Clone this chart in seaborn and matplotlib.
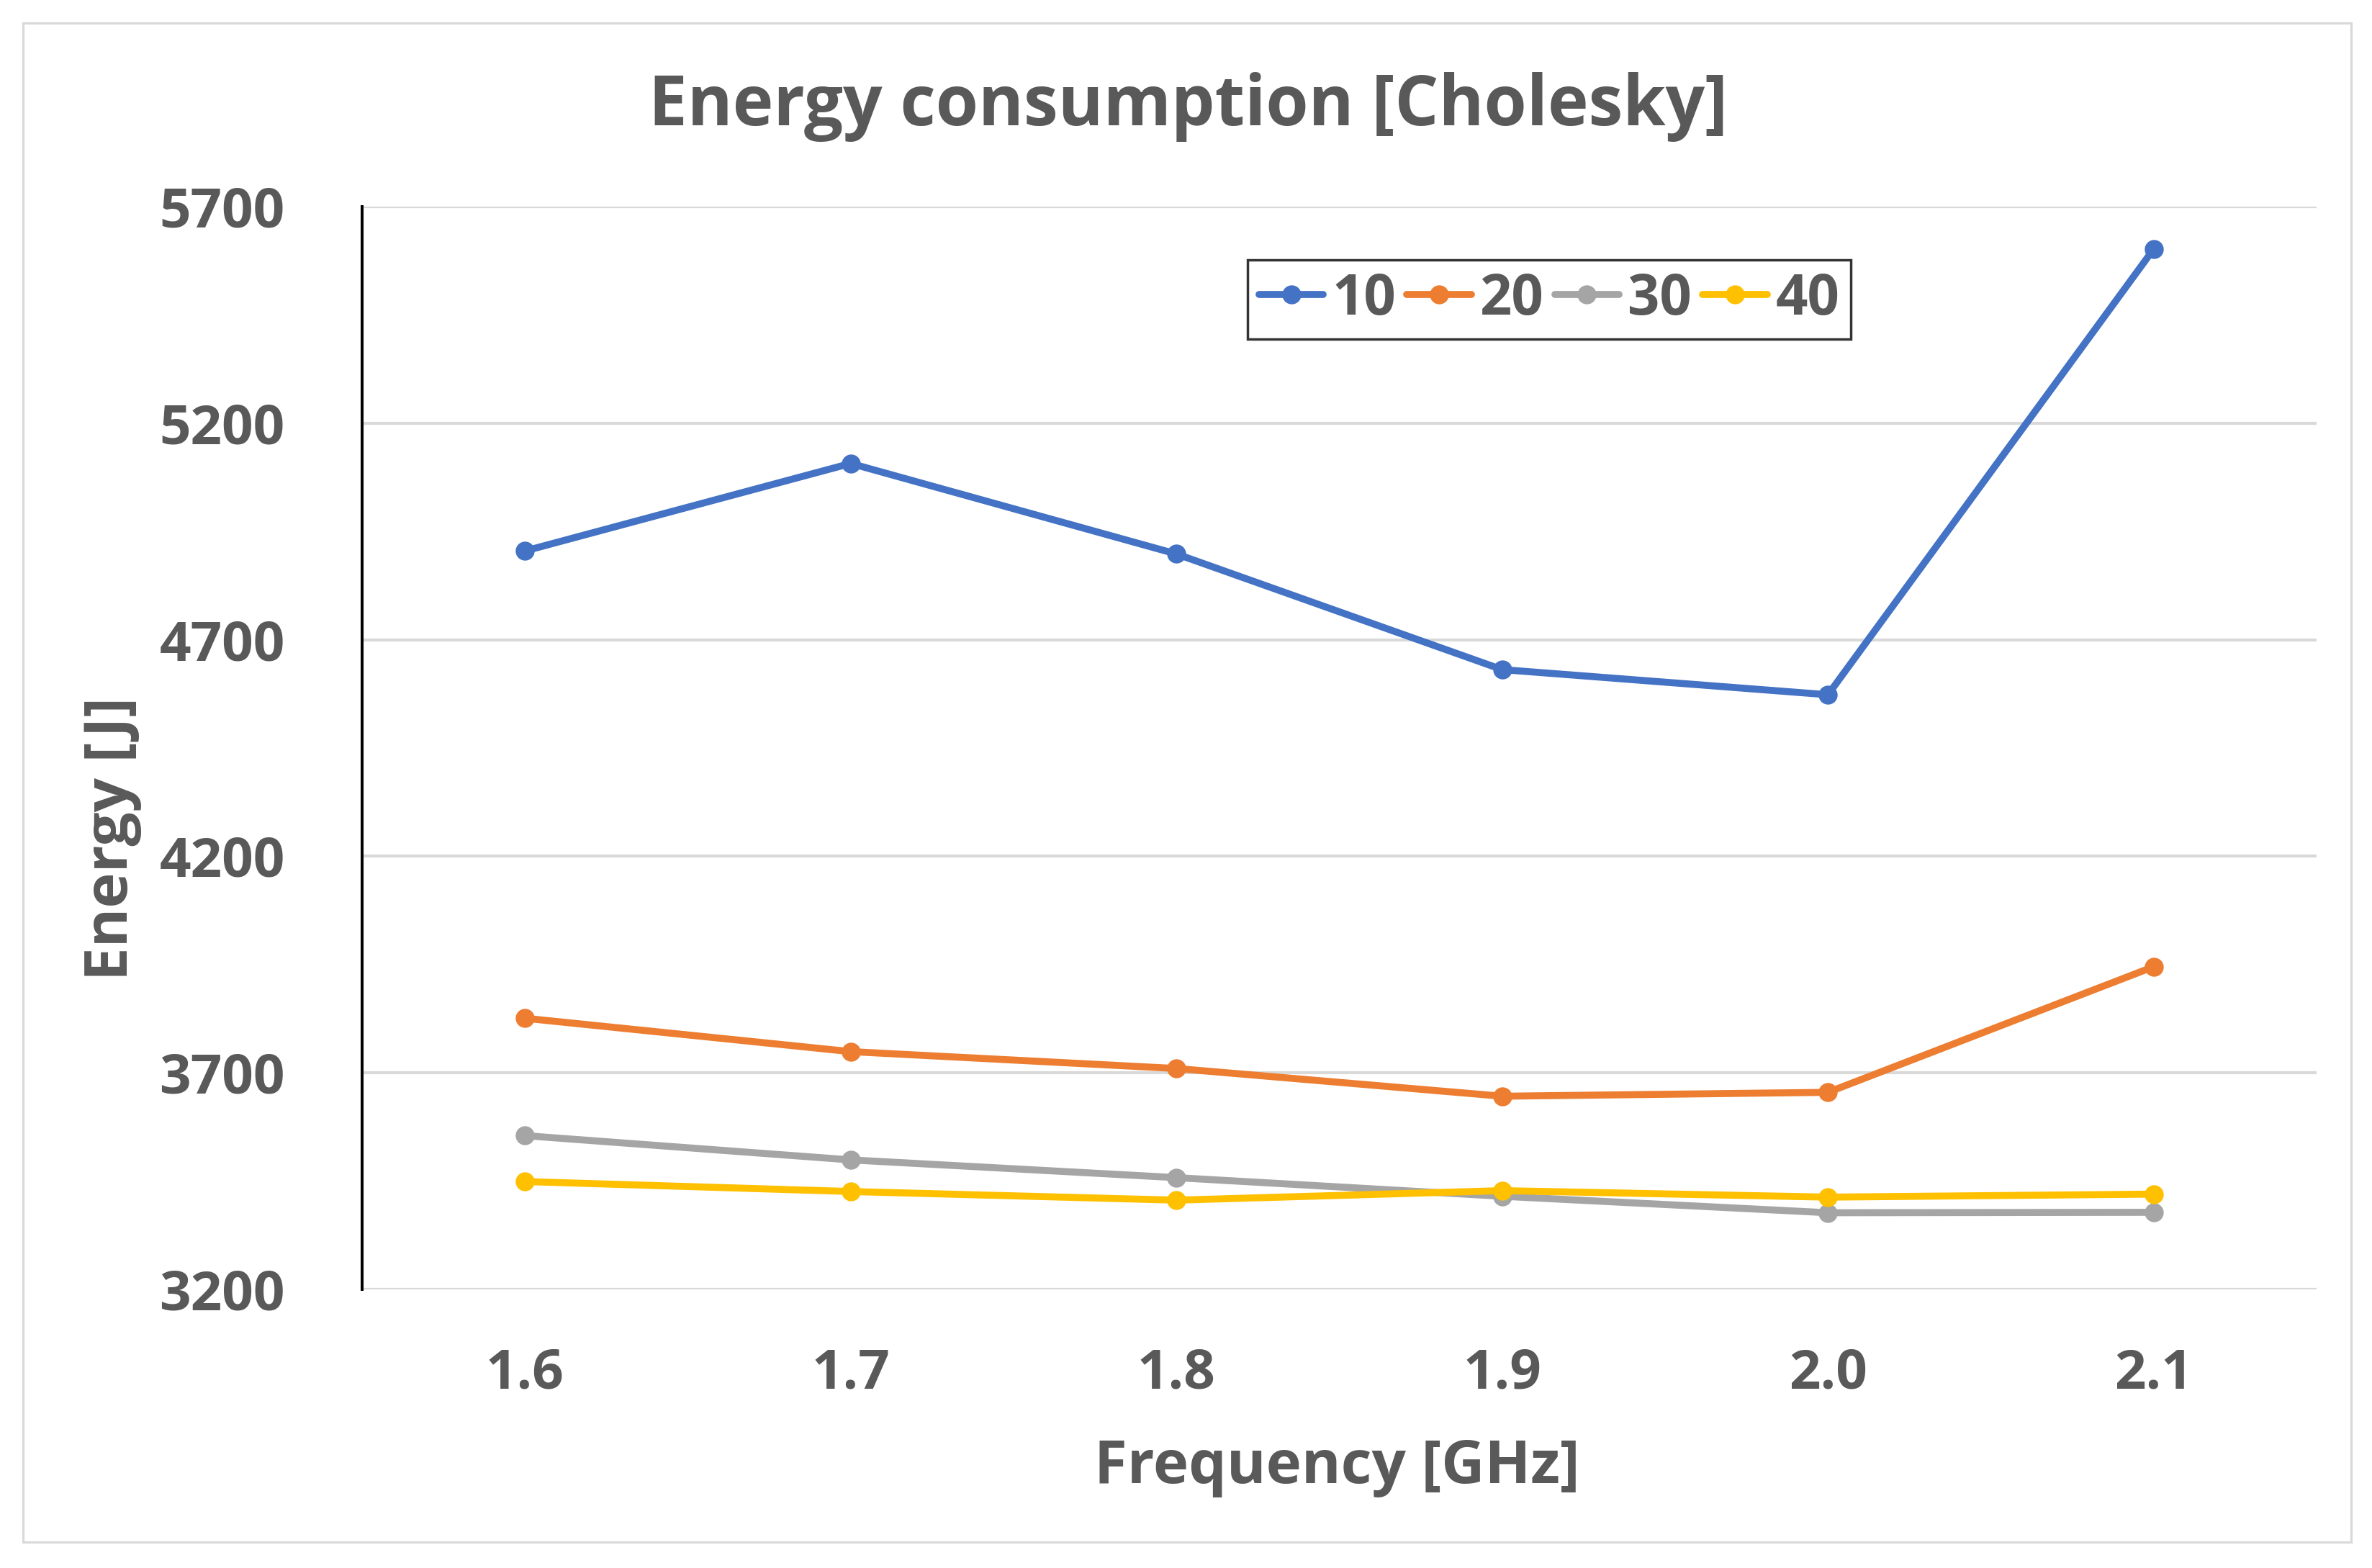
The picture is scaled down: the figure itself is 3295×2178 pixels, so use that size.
import matplotlib
matplotlib.use("Agg")
import matplotlib.pyplot as plt
import seaborn as sns
import pandas as pd
from matplotlib.patches import Rectangle

# ---- data ----
frequencies = ["1.6", "1.7", "1.8", "1.9", "2.0", "2.1"]
series_names = ["10", "20", "30", "40"]
energy_10 = [4905, 5107, 4898, 4631, 4573, 5602]
energy_20 = [3826, 3749, 3710, 3646, 3655, 3945]
energy_30 = [3555, 3499, 3458, 3415, 3377, 3378]
energy_40 = [3449, 3426, 3406, 3428, 3413, 3420]
y_ticks = [3200, 3700, 4200, 4700, 5200, 5700]

colors = ["#4472C4", "#ED7D31", "#A5A5A5", "#FFC000"]
text_color = "#595959"
grid_color = "#D9D9D9"

rows = []
for name, vals in zip(series_names, [energy_10, energy_20, energy_30, energy_40]):
    for f, v in zip(frequencies, vals):
        rows.append({"Frequency": f, "Energy": v, "Series": name})
df = pd.DataFrame(rows)

sns.set_theme(style="white")
plt.rcParams["font.family"] = ["Open Sans", "DejaVu Sans"]
plt.rcParams["font.weight"] = "bold"

DPI = 100
fig = plt.figure(figsize=(32.95, 21.78), dpi=DPI)
ax = fig.add_axes([503 / 3295, 1 - 1791 / 2178, 2715 / 3295, 1504 / 2178])

# outer chart border
fig.patches.append(Rectangle((32 / 3295, 1 - 2142 / 2178), (3266 - 32) / 3295, (2142 - 32) / 2178,
                             transform=fig.transFigure, fill=False, edgecolor=grid_color,
                             linewidth=2.3, zorder=0))

sns.lineplot(data=df, x="Frequency", y="Energy", hue="Series", hue_order=series_names,
             palette=colors, marker="o", markersize=19, markeredgewidth=0,
             linewidth=7, sort=False, ax=ax, legend=False, zorder=3)

ax.set_xlim(-0.5, len(frequencies) - 0.5)
ax.set_ylim(3200, 5700)
ax.set_yticks(y_ticks)
ax.set_yticklabels([str(t) for t in y_ticks])

ax.yaxis.grid(True, color=grid_color, linewidth=3.0)
ax.xaxis.grid(False)
ax.set_axisbelow(True)
for s in ["top", "right", "bottom"]:
    ax.spines[s].set_visible(False)
ax.spines["left"].set_color("black")
ax.spines["left"].set_linewidth(2.9)
ax.spines["left"].set_zorder(4)

ax.tick_params(axis="both", length=0, labelsize=55, labelcolor=text_color)
ax.tick_params(axis="y", pad=77)
ax.tick_params(axis="x", pad=58)
for lab in ax.get_xticklabels() + ax.get_yticklabels():
    lab.set_fontweight("bold")

ax.set_xlabel("Frequency [GHz]", fontsize=60, fontweight="bold", color=text_color)
ax.xaxis.set_label_coords(0.499, -0.1789)
ax.xaxis.label.set_va("baseline")
ax.set_ylabel("Energy [J]", fontsize=60, fontweight="bold", color=text_color)
ax.yaxis.set_label_coords(-0.1127, 0.416)

fig.text(0.5008, 1 - 174 / 2178, "Energy consumption [Cholesky]", ha="center", va="baseline",
         fontsize=69, fontweight="bold", color=text_color)

handles = [plt.Line2D([], [], color=c, linewidth=7, marker="o", markersize=19,
                      markeredgewidth=0) for c in colors]
leg = ax.legend(handles, series_names, ncol=4, loc="center",
                bbox_to_anchor=(2152 / 3295, 1 - 416 / 2178), bbox_transform=fig.transFigure,
                fontsize=56, frameon=True, fancybox=False, handlelength=1.15,
                handletextpad=0.15, columnspacing=0.2, borderpad=0.2, borderaxespad=0)
leg.get_frame().set_edgecolor("black")
leg.get_frame().set_linewidth(2.5)
for t in leg.get_texts():
    t.set_color(text_color)
    t.set_fontweight("bold")

fig.savefig("out.png", dpi=DPI, facecolor="white")
